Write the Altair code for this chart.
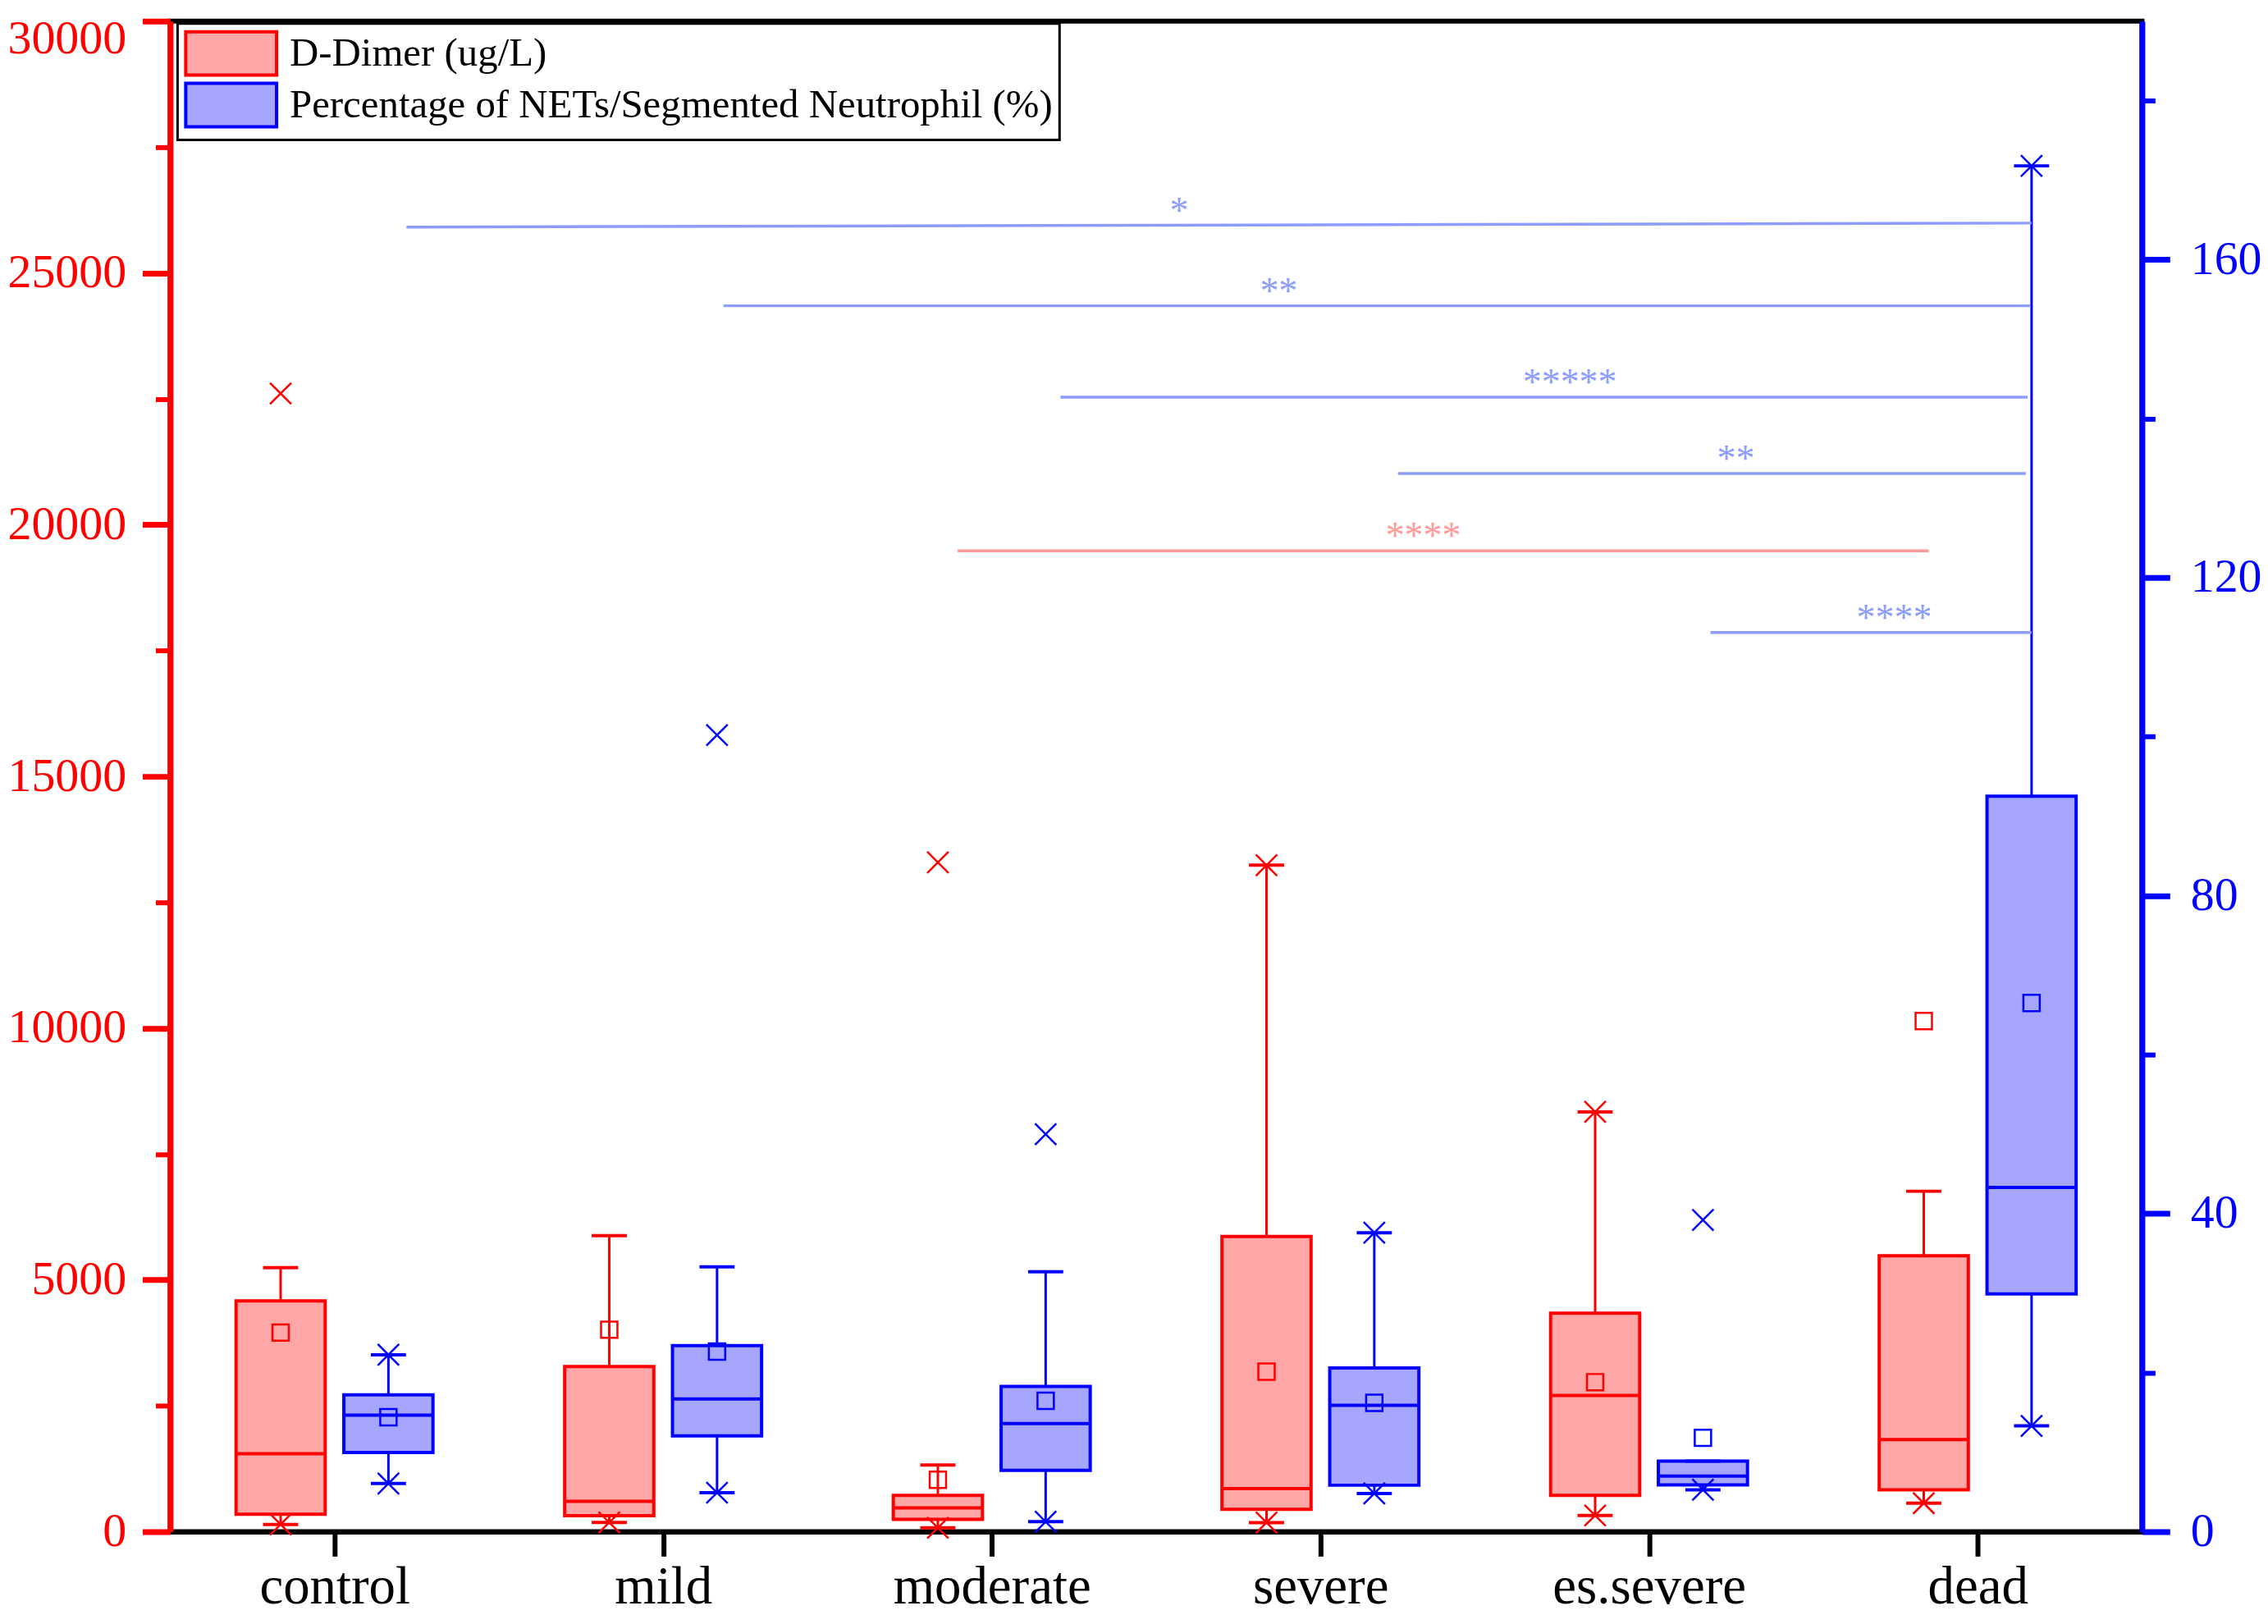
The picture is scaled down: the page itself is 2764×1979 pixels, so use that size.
import json
import altair as alt
import pandas as pd

# ---------------- data ----------------
groups = ["control", "mild", "moderate", "severe", "es.severe", "dead"]
series_names = ["D-Dimer (ug/L)", "Percentage of NETs/Segmented Neutrophil (%)"]

# D-Dimer (left axis)
dd_q1 = [344, 318, 243, 444, 719, 831]
dd_q3 = [4584, 3278, 719, 5862, 4338, 5478]
dd_median = [1547, 602, 472, 854, 2705, 1828]
dd_mean = [3954, 4011, 1031, 3177, 2968, 10142]
dd_low = [143, 183, 77, 180, 321, 565]
dd_high = [5243, 5879, 1323, 13236, 8337, 6761]
dd_x_group = ["control", "control", "mild", "moderate", "moderate", "severe",
              "severe", "es.severe", "es.severe", "dead"]
dd_x_value = [143, 22605, 183, 77, 13294, 180, 13236, 321, 8337, 565]

# NETs / segmented neutrophil (right axis)
net_q1 = [9.96, 12.05, 7.7, 5.84, 5.89, 29.9]
net_q3 = [17.2, 23.4, 18.27, 20.6, 8.87, 92.5]
net_median = [14.65, 16.7, 13.6, 15.9, 7.0, 43.3]
net_mean = [14.4, 22.65, 16.45, 16.2, 11.8, 66.5]
net_low = [6.05, 4.9, 1.25, 4.8, 5.27, 13.3]
net_high = [22.25, 33.3, 32.7, 37.6, 8.87, 171.8]
net_x_group = ["control", "control", "mild", "mild", "moderate", "moderate",
               "severe", "severe", "es.severe", "es.severe", "dead", "dead"]
net_x_value = [6.05, 22.25, 4.9, 100.2, 1.25, 50.0, 4.8, 37.6, 5.27, 39.2, 13.3, 171.8]

# significance bars (x in category units, 0..6)
sig_net_x1 = [0.719, 1.684, 2.709, 3.736, 4.687]
sig_net_x2 = [5.664, 5.659, 5.652, 5.647, 5.664]
sig_net_y1 = [164.1, 154.2, 142.7, 133.1, 113.1]
sig_net_y2 = [164.6, 154.2, 142.7, 133.1, 113.1]
sig_net_label = ["*", "**", "*****", "**", "****"]
sig_net_label_x = [3.070, 3.373, 4.259, 4.764, 5.246]
sig_net_label_y = [164.3, 154.2, 142.7, 133.1, 113.1]

sig_dd_x1 = [2.396]
sig_dd_x2 = [5.351]
sig_dd_y = [19482]
sig_dd_label = ["****"]
sig_dd_label_x = [3.813]

red_ticks = [0, 5000, 10000, 15000, 20000, 25000, 30000]
red_minor = [2500, 7500, 12500, 17500, 22500, 27500]
blue_ticks = [0, 40, 80, 120, 160]
blue_minor = [20, 60, 100, 140, 180]

# ---------------- styling ----------------
OFF = 0.164
HALF = 0.1356
CAP = 0.0535
RED = "#ff0000"
BLUE = "#0000ff"
PINK = "#ffa6a6"
LAV = "#a6a6ff"
SIGB = "#8c9cff"
SIGR = "#ff9a9a"
FONT = "Liberation Serif"
XPATH = "M-1,-1L1,1M-1,1L1,-1"
# legend swatch: wide rectangle drawn to the right of the symbol centre
RECTPATH = "M-1,-1L3.19,-1L3.19,1L-1,1Z"


def box_frame(q1, q3, med, mean, low, high, shift, name):
    pos = [i + 0.5 + shift for i in range(len(groups))]
    return pd.DataFrame({
        "group": groups, "pos": pos,
        "left": [p - HALF for p in pos], "right": [p + HALF for p in pos],
        "q1": q1, "q3": q3, "median": med, "mean": mean,
        "low": low, "high": high, "series": name,
    })


def cap_frame(low, high, shift):
    pos = [i + 0.5 + shift for i in range(len(groups))]
    return pd.DataFrame({
        "capl": [p - CAP for p in pos] * 2,
        "capr": [p + CAP for p in pos] * 2,
        "val": list(low) + list(high),
    })


def xmark_frame(gs, vals, shift):
    return pd.DataFrame({"pos": [groups.index(g) + 0.5 + shift for g in gs], "val": vals})


dd_box = box_frame(dd_q1, dd_q3, dd_median, dd_mean, dd_low, dd_high, -OFF, series_names[0])
net_box = box_frame(net_q1, net_q3, net_median, net_mean, net_low, net_high, OFF, series_names[1])
dd_caps = cap_frame(dd_low, dd_high, -OFF)
net_caps = cap_frame(net_low, net_high, OFF)
dd_x = xmark_frame(dd_x_group, dd_x_value, -OFF)
net_x = xmark_frame(net_x_group, net_x_value, OFF)

net_sig = pd.DataFrame({"x1": sig_net_x1, "x2": sig_net_x2, "y1": sig_net_y1, "y2": sig_net_y2})
net_sig_txt = pd.DataFrame({"x": sig_net_label_x, "y": sig_net_label_y, "t": sig_net_label})
dd_sig = pd.DataFrame({"x1": sig_dd_x1, "x2": sig_dd_x2, "y1": sig_dd_y, "y2": sig_dd_y})
dd_sig_txt = pd.DataFrame({"x": sig_dd_label_x, "y": sig_dd_y, "t": sig_dd_label})

xscale = alt.Scale(domain=[0, 6], nice=False, zero=False)
label_expr = json.dumps(groups) + "[floor(datum.value)]"
xaxis = alt.Axis(
    values=[i + 0.5 for i in range(len(groups))], labelExpr=label_expr,
    orient="bottom", domainColor="black", domainWidth=6, tickColor="black",
    tickWidth=6, tickSize=30, labelFont=FONT, labelFontSize=65, labelColor="black",
    labelPadding=6, labelLimit=2000, grid=False, title=None, labelFlush=False,
    labelOverlap=False,
)

legend = alt.Legend(
    orient="none", legendX=9, legendY=3, title=None, symbolType=RECTPATH,
    symbolSize=2809, symbolStrokeWidth=4, symbolOpacity=1,
    labelFont=FONT, labelFontSize=49, labelColor="black", labelLimit=3000,
    labelOffset=72, padding=8, rowPadding=-8, strokeColor="black", fillColor="white",
)
fill_enc = alt.Fill("series:N", scale=alt.Scale(domain=series_names, range=[PINK, LAV]), legend=legend)
stroke_enc = alt.Stroke("series:N", scale=alt.Scale(domain=series_names, range=[RED, BLUE]), legend=legend)


def make_group(box, caps, xm, sig, sigtxt, color, sigcolor, ydom, major_vals, minor_vals,
               orient, tsize, msize, lpad, show_x, top_label_shift):
    ysc = alt.Scale(domain=ydom, nice=False, zero=True)
    top_val = major_vals[-1]
    major = alt.Axis(
        orient=orient, values=major_vals, format="d", domainColor=color, domainWidth=7,
        tickColor=color, tickWidth=7, tickSize=tsize, labelColor=color, labelFont=FONT,
        labelFontSize=58, labelPadding=lpad, grid=False, title=None,
        labelFlush=False, labelOverlap=False,
        labelOffset={"condition": {"test": f"datum.value === {top_val}",
                                   "value": top_label_shift}, "value": 0},
    )
    minor = alt.Axis(
        orient=orient, values=minor_vals, labels=False, domain=False, tickColor=color,
        tickWidth=6, tickSize=msize, grid=False, title=None,
    )
    xa = xaxis if show_x else None

    wh_hi = alt.Chart(box).mark_rule(color=color, strokeWidth=3).encode(
        x=alt.X("pos:Q", scale=xscale, axis=xa),
        y=alt.Y("q3:Q", scale=ysc, axis=major), y2="high:Q")
    wh_lo = alt.Chart(box).mark_rule(color=color, strokeWidth=3).encode(
        x=alt.X("pos:Q", scale=xscale, axis=None),
        y=alt.Y("q1:Q", scale=ysc, axis=minor), y2="low:Q")
    rect = alt.Chart(box).mark_rect(strokeWidth=4, opacity=1).encode(
        x=alt.X("left:Q", scale=xscale, axis=None), x2="right:Q",
        y=alt.Y("q1:Q", scale=ysc, axis=None), y2="q3:Q",
        fill=fill_enc, stroke=stroke_enc)
    med = alt.Chart(box).mark_rule(color=color, strokeWidth=4).encode(
        x=alt.X("left:Q", scale=xscale, axis=None), x2="right:Q",
        y=alt.Y("median:Q", scale=ysc, axis=None))
    cap = alt.Chart(caps).mark_rule(color=color, strokeWidth=4).encode(
        x=alt.X("capl:Q", scale=xscale, axis=None), x2="capr:Q",
        y=alt.Y("val:Q", scale=ysc, axis=None))
    xmk = alt.Chart(xm).mark_point(shape=XPATH, size=676, filled=False, color=color,
                                   strokeWidth=2.5, opacity=1).encode(
        x=alt.X("pos:Q", scale=xscale, axis=None),
        y=alt.Y("val:Q", scale=ysc, axis=None))
    mean = alt.Chart(box).mark_point(shape="square", size=400, filled=False, color=color,
                                     strokeWidth=2.5, opacity=1).encode(
        x=alt.X("pos:Q", scale=xscale, axis=None),
        y=alt.Y("mean:Q", scale=ysc, axis=None))
    sl = alt.Chart(sig).mark_rule(color=sigcolor, strokeWidth=3.5).encode(
        x=alt.X("x1:Q", scale=xscale, axis=None), x2="x2:Q",
        y=alt.Y("y1:Q", scale=ysc, axis=None), y2="y2:Q")
    st = alt.Chart(sigtxt).mark_text(color=sigcolor, font=FONT, fontSize=46,
                                     baseline="alphabetic", align="center", dy=-3).encode(
        x=alt.X("x:Q", scale=xscale, axis=None),
        y=alt.Y("y:Q", scale=ysc, axis=None), text="t:N")
    return alt.layer(wh_hi, wh_lo, rect, med, cap, xmk, mean, sl, st).resolve_axis(
        x="independent", y="independent")


red_group = make_group(dd_box, dd_caps, dd_x, dd_sig, dd_sig_txt, RED, SIGR, [0, 30000],
                       red_ticks, red_minor, "left", 34, 18, 20, True, 22)
blue_group = make_group(net_box, net_caps, net_x, net_sig, net_sig_txt, BLUE, SIGB, [0, 190],
                        blue_ticks, blue_minor, "right", 34, 16, 25, False, 0)

chart = alt.layer(red_group, blue_group).resolve_scale(y="independent").resolve_axis(
    x="independent", y="independent").properties(
    width=2410, height=1846,
    autosize=alt.AutoSizeParams(type="none"),
    padding={"left": 200, "top": 15, "right": 146, "bottom": 102},
    background="white",
).configure_view(stroke="black", strokeWidth=6).configure_legend(strokeWidth=3)

chart.save("out.html", embed_options={"renderer": "svg", "actions": False})
